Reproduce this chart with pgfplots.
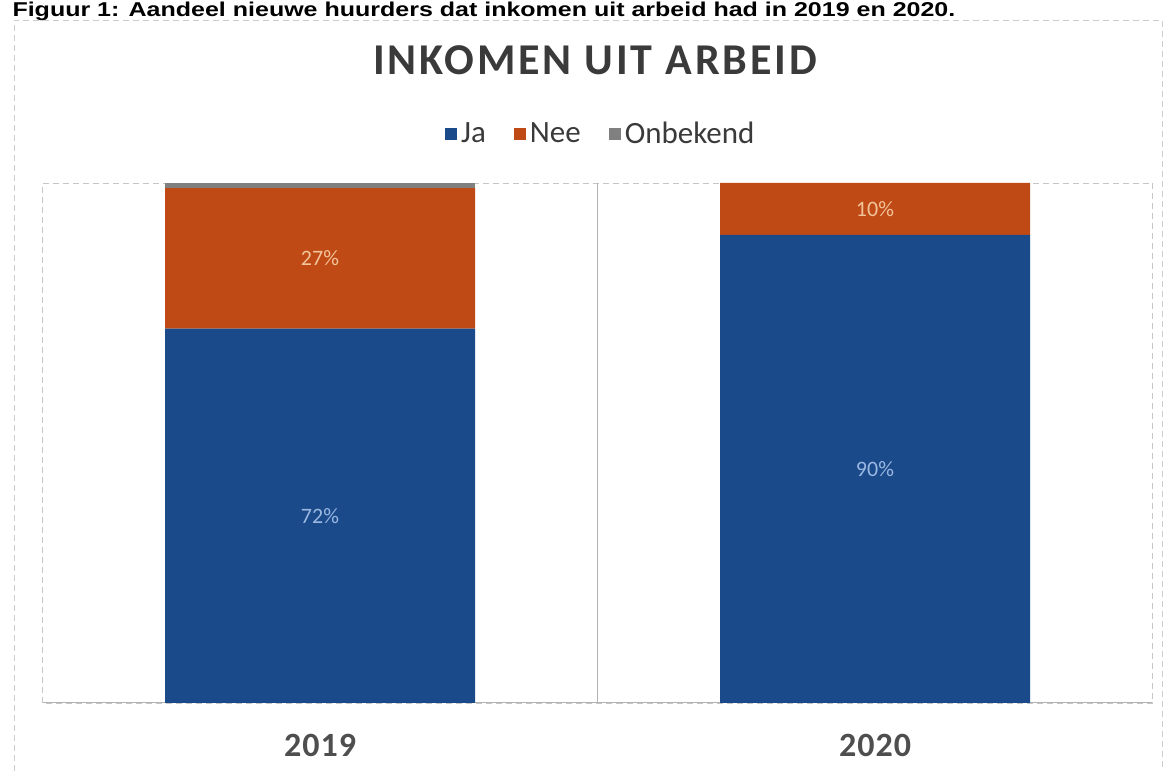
\documentclass[border=0pt]{standalone}
\usepackage{pgfplots}
\pgfplotsset{compat=1.18}
\usepackage{fontspec}
\setmainfont{Carlito}
\newfontfamily\capfont{Liberation Sans}
\newfontfamily\titlefont[LetterSpace=6.5]{Carlito}
\newfontfamily\tickfont[LetterSpace=3]{Carlito}
\definecolor{ja}{HTML}{1A4A8A}
\definecolor{nee}{HTML}{C04A16}
\definecolor{onb}{HTML}{808080}
\definecolor{ink}{HTML}{3A3A3A}
\definecolor{jalbl}{HTML}{9BB8E2}
\definecolor{neelbl}{HTML}{F2C49A}

\begin{document}
\begin{tikzpicture}
% units in the scope: 1 px = 0.5pt, origin bottom-left, y = 771 - pixel row
\begin{scope}[x=0.5pt,y=0.5pt]
\useasboundingbox (0,0) rectangle (1168,771);
\node[anchor=base west,inner sep=0pt,font=\capfont\bfseries\fontsize{10}{12}\selectfont,
      xscale=1.25] at (12,754)
  {Figuur 1: Aandeel nieuwe huurders dat inkomen uit arbeid had in 2019 en 2020.};
\draw[gray!40,line width=0.4pt,densely dashed] (14,0) -- (14,751) -- (1162,751) -- (1162,0);
\node[font=\titlefont\bfseries\fontsize{22}{26}\selectfont,text=ink] at (595,711) {INKOMEN UIT ARBEID};
\end{scope}
\begin{axis}[
  at={(21.25pt,34pt)}, anchor=south west,
  scale only axis, width=555pt, height=260pt,
  ybar stacked, bar width=155pt,
  xmin=-0.5, xmax=1.5, ymin=0, ymax=100,
  xtick={0,1}, xticklabels={2019,2020},
  xtick style={draw=none},
  ticklabel style={font=\tickfont\bfseries\fontsize{17}{20}\selectfont,text=ink!90},
  xticklabel style={yshift=-12pt},
  ytick=\empty,
  axis line style={gray!45,line width=0.4pt,densely dashed},
  extra x ticks={0.5}, extra x tick labels={},
  extra x tick style={grid=major,major grid style={gray!60,line width=0.5pt},tick style={draw=none}},
  legend style={draw=none,fill=none,at={(0.503,1)},anchor=center,yshift=24.5pt,
    legend columns=-1,font=\fontsize{15.5}{17}\selectfont,text=ink,
    nodes={inner sep=1pt},
    /tikz/every odd column/.append style={column sep=1pt},
    /tikz/every even column/.append style={column sep=13pt}},
  legend image code/.code={\fill[#1] (0pt,-3pt) rectangle (6pt,3pt);},
]
\addplot[fill=ja,draw=none] coordinates {(0,72) (1,90)};
\addplot[fill=nee,draw=none] coordinates {(0,27) (1,10)};
\addplot[fill=onb,draw=none] coordinates {(0,1) (1,0)};
\legend{Ja,Nee,Onbekend}
\draw[gray!60,line width=0.5pt] (rel axis cs:0,0) -- (rel axis cs:1,0);
\coordinate (a) at (axis cs:0,36);
\coordinate (b) at (axis cs:0,85.5);
\coordinate (c) at (axis cs:1,45);
\coordinate (d) at (axis cs:1,95);
\end{axis}
\node[font=\fontsize{11}{13}\selectfont,text=jalbl] at (a) {72\%};
\node[font=\fontsize{11}{13}\selectfont,text=neelbl] at (b) {27\%};
\node[font=\fontsize{11}{13}\selectfont,text=jalbl] at (c) {90\%};
\node[font=\fontsize{11}{13}\selectfont,text=neelbl] at (d) {10\%};
\end{tikzpicture}
\end{document}
